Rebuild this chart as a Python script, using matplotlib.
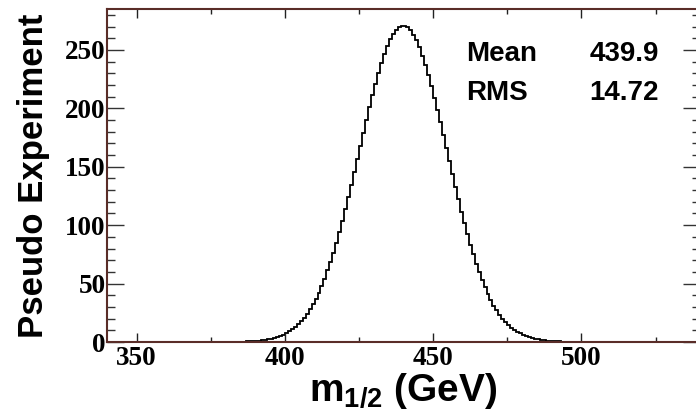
import numpy as np
import matplotlib
matplotlib.use('Agg')
import matplotlib.pyplot as plt
from matplotlib.ticker import MultipleLocator

# m_1/2 histogram, 1 GeV bins
bin_lo = 379
counts = [0.0, 0.1, 0.1, 0.1, 0.2, 0.2, 0.3, 0.4, 0.5, 0.6,
          0.8, 1.0, 1.2, 1.5, 1.9, 2.3, 2.9, 3.5, 4.3, 5.2,
          6.3, 7.5, 9.0, 10.7, 12.7, 15.0, 17.7, 20.7, 24.0, 27.9,
          32.1, 36.9, 42.1, 47.9, 54.3, 61.2, 68.6, 76.6, 85.1, 94.2,
          103.7, 113.7, 124.1, 134.8, 145.7, 156.8, 167.9, 179.1, 190.0, 200.8,
          211.1, 221.0, 230.3, 238.8, 246.6, 253.4, 259.2, 263.9, 267.4, 269.8,
          270.9, 270.8, 269.4, 266.8, 263.0, 258.1, 252.1, 245.1, 237.2, 228.5,
          219.1, 209.1, 198.7, 187.9, 176.9, 165.7, 154.6, 143.5, 132.6, 122.0,
          111.7, 101.8, 92.3, 83.4, 75.0, 67.1, 59.7, 53.0, 46.7, 41.1,
          35.9, 31.2, 27.1, 23.3, 20.0, 17.1, 14.6, 12.3, 10.4, 8.7,
          7.3, 6.0, 5.0, 4.1, 3.4, 2.8, 2.2, 1.8, 1.5, 1.2,
          0.9, 0.7, 0.6, 0.5, 0.4, 0.3, 0.2, 0.0]
edges = np.arange(bin_lo, bin_lo + len(counts) + 1)

stat_names = ['Mean', 'RMS']
stat_values = ['439.9', '14.72']

spine_col = '#5a2d28'

plt.rcParams['mathtext.fontset'] = 'custom'
plt.rcParams['mathtext.rm'] = 'Liberation Sans:bold'
plt.rcParams['mathtext.it'] = 'Liberation Sans:bold'
plt.rcParams['mathtext.bf'] = 'Liberation Sans:bold'

fig = plt.figure(figsize=(6.96, 4.11), dpi=100)
ax = fig.add_axes([107 / 696, 69 / 411, 593 / 696, 332.5 / 411])

ax.stairs(counts, edges, color='black', linewidth=1.3, baseline=0)

ax.set_xlim(340, 540)
ax.set_ylim(0, 284.6)

for s in ax.spines.values():
    s.set_color(spine_col)
    s.set_linewidth(1.5)

ax.xaxis.set_major_locator(MultipleLocator(50))
ax.xaxis.set_minor_locator(MultipleLocator(25))
ax.yaxis.set_major_locator(MultipleLocator(50))
ax.yaxis.set_minor_locator(MultipleLocator(10))

ax.tick_params(axis='x', which='major', direction='in', length=6.2, width=1.0,
               top=True, pad=3, color='#222222')
ax.tick_params(axis='x', which='minor', direction='in', length=3.6, width=1.0,
               top=True, color='#222222')
ax.tick_params(axis='y', which='major', direction='in', length=12, width=1.0,
               right=True, pad=1, color='#333333')
ax.tick_params(axis='y', which='minor', direction='in', length=5.8, width=1.0,
               right=True, color='#333333')

for lab in ax.get_xticklabels() + ax.get_yticklabels():
    lab.set_fontfamily('Liberation Serif')
    lab.set_fontweight('bold')
    lab.set_fontsize(19.5)

ax.set_ylabel('Pseudo Experiment', fontfamily='Liberation Sans', fontweight='bold',
              fontsize=25, labelpad=11)
ax.set_xlabel(r'$\mathrm{m}_{\mathrm{1/2}}$ (GeV)', fontfamily='Liberation Sans',
              fontweight='bold', fontsize=28, labelpad=0)

for i, (name, val) in enumerate(zip(stat_names, stat_values)):
    y = 61 + i * 39.5
    ax.text(466 / 696, 1 - y / 411, name, transform=fig.transFigure,
            fontfamily='Liberation Sans', fontweight='bold', fontsize=20,
            ha='left', va='baseline')
    ax.text(659 / 696, 1 - y / 411, val, transform=fig.transFigure,
            fontfamily='Liberation Sans', fontweight='bold', fontsize=20,
            ha='right', va='baseline')

fig.savefig('out.png', dpi=100)
